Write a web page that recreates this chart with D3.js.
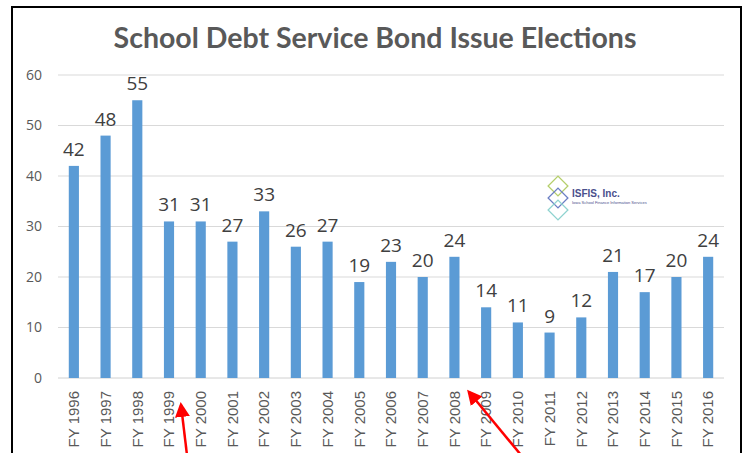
<!DOCTYPE html>
<html>
<head>
<meta charset="utf-8">
<script src="https://cdn.jsdelivr.net/npm/d3@7"></script>
<style>
  body { margin: 0; background: #fff; }
</style>
</head>
<body>
<svg id="chart"></svg>
<script>
var years = ["FY 1996", "FY 1997", "FY 1998", "FY 1999", "FY 2000", "FY 2001", "FY 2002",
  "FY 2003", "FY 2004", "FY 2005", "FY 2006", "FY 2007", "FY 2008", "FY 2009", "FY 2010",
  "FY 2011", "FY 2012", "FY 2013", "FY 2014", "FY 2015", "FY 2016"];
var elections = [42, 48, 55, 31, 31, 27, 33, 26, 27, 19, 23, 20, 24, 14, 11, 9, 12, 21, 17, 20, 24];
var yTicks = [0, 10, 20, 30, 40, 50, 60];

var width = 745,
  height = 453,
  plotLeft = 58,
  plotRight = 724,
  plotTop = 75,
  plotBottom = 378;

var svg = d3.select('#chart').attr('width', width).attr('height', height);

// frame of the screenshot
svg.append('path')
  .attr('d', 'M12,453 V7 H741 V453')
  .attr('fill', 'none')
  .attr('stroke', '#000')
  .attr('stroke-width', 2);

var x = d3.scaleBand().domain(years).range([plotLeft, plotRight]).paddingInner(0.68).paddingOuter(0.34);
var y = d3.scaleLinear().domain([0, 60]).range([plotBottom, plotTop]);

// gridlines
svg.append('g').selectAll('line')
  .data(yTicks)
  .enter().append('line')
  .attr('x1', plotLeft).attr('x2', plotRight)
  .attr('y1', function(d) { return y(d); })
  .attr('y2', function(d) { return y(d); })
  .attr('stroke', function(d) { return d === 0 ? '#d0d0d0' : '#d9d9d9'; })
  .attr('stroke-width', 1);

// y axis labels
var yAxis = svg.append('g')
  .attr('transform', 'translate(' + (plotLeft - 16) + ',0)')
  .call(d3.axisLeft(y).tickValues(yTicks).tickSize(0).tickPadding(0));
yAxis.select('.domain').remove();
yAxis.selectAll('text')
  .attr('font-family', 'Open Sans, sans-serif')
  .attr('font-size', '14px')
  .attr('fill', '#595959');

// bars
svg.append('g').selectAll('rect')
  .data(elections)
  .enter().append('rect')
  .attr('x', function(d, i) { return x(years[i]); })
  .attr('y', function(d) { return y(d); })
  .attr('width', x.bandwidth())
  .attr('height', function(d) { return y(0) - y(d); })
  .attr('fill', '#5b9bd5');

// value labels
svg.append('g').selectAll('text')
  .data(elections)
  .enter().append('text')
  .attr('x', function(d, i) { return x(years[i]) + x.bandwidth() / 2; })
  .attr('y', function(d) { return y(d) - 10; })
  .attr('text-anchor', 'middle')
  .attr('font-family', 'Open Sans, sans-serif')
  .attr('font-size', '19px')
  .attr('fill', '#404040')
  .text(function(d) { return d; });

// x axis labels
var xAxis = svg.append('g')
  .attr('transform', 'translate(0,' + (plotBottom + 11) + ')')
  .call(d3.axisBottom(x).tickSize(0).tickPadding(0));
xAxis.select('.domain').remove();
xAxis.selectAll('text')
  .attr('transform', 'rotate(-90)')
  .attr('text-anchor', 'end')
  .attr('dy', '0.35em')
  .attr('x', -2)
  .attr('y', 0)
  .attr('font-family', 'Liberation Sans, Arial, sans-serif')
  .attr('font-size', '15px')
  .attr('fill', '#595959');

// title
svg.append('text')
  .attr('x', 375).attr('y', 48)
  .attr('text-anchor', 'middle')
  .attr('font-family', 'Lato, sans-serif')
  .attr('font-weight', 'bold')
  .attr('font-size', '28.5px')
  .attr('fill', '#595959')
  .text('School Debt Service Bond Issue Elections');

// ISFIS logo
var logo = svg.append('g').attr('transform', 'translate(558,198)');
[['#b5cf6b', -12], ['#6b7fc4', 0], ['#8fd3d0', 12]].forEach(function(c) {
  logo.append('rect')
    .attr('x', -7).attr('y', c[1] - 7)
    .attr('width', 14).attr('height', 14)
    .attr('transform', 'rotate(45,0,' + c[1] + ')')
    .attr('fill', 'none')
    .attr('stroke', c[0])
    .attr('stroke-width', 1.3);
});
logo.append('text')
  .attr('x', 14).attr('y', -1)
  .attr('font-family', 'Liberation Sans, Arial, sans-serif')
  .attr('font-weight', 'bold')
  .attr('font-size', '10px')
  .attr('fill', '#4a4f8c')
  .text('ISFIS, Inc.');
logo.append('text')
  .attr('x', 14).attr('y', 6)
  .attr('font-family', 'Liberation Sans, Arial, sans-serif')
  .attr('font-size', '4px')
  .attr('fill', '#4a4f8c')
  .text('Iowa School Finance Information Services');

// red arrows
var defs = svg.append('defs');
defs.append('marker')
  .attr('id', 'arrow')
  .attr('viewBox', '0 0 10 10')
  .attr('refX', 8).attr('refY', 5)
  .attr('markerWidth', 6).attr('markerHeight', 6)
  .attr('orient', 'auto')
  .append('path')
  .attr('d', 'M0,0 L10,5 L0,10 z')
  .attr('fill', '#ff0000');

[[187, 455, 181, 405], [521, 455, 469, 392]].forEach(function(a) {
  svg.append('line')
    .attr('x1', a[0]).attr('y1', a[1])
    .attr('x2', a[2]).attr('y2', a[3])
    .attr('stroke', '#ff0000')
    .attr('stroke-width', 2.5)
    .attr('marker-end', 'url(#arrow)');
});
</script>
</body>
</html>
